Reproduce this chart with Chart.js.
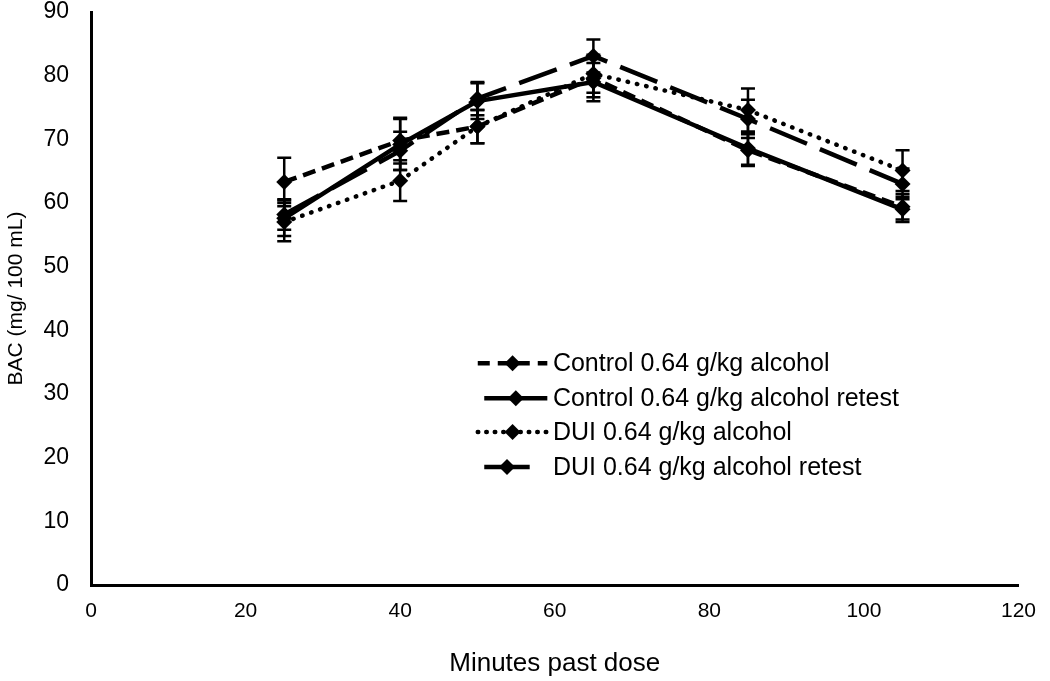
<!DOCTYPE html>
<html>
<head>
<meta charset="utf-8">
<script src="https://cdn.jsdelivr.net/npm/chart.js@4/dist/chart.umd.min.js"></script>
<style>
  html, body { margin: 0; padding: 0; background: #fff; }
  #wrap { width: 1050px; height: 681px; position: relative; }
</style>
</head>
<body>
<div id="wrap"><canvas id="bac"></canvas></div>
<script>
// minutes past dose
const minutes = [25, 40, 50, 65, 85, 105];

// mean BAC (mg/100 mL) per group
const controlBac = [63.3, 69.8, 72.0, 79.6, 68.3, 59.4];
const controlRetestBac = [57.6, 69.2, 76.0, 79.0, 68.6, 59.0];
const duiBac = [57.0, 63.5, 72.0, 80.3, 74.6, 65.1];
const duiRetestBac = [58.2, 68.2, 76.4, 83.1, 73.2, 63.0];

// error bar half-lengths
const controlErr = [3.8, 3.6, 2.6, 3.0, 2.5, 2.0];
const controlRetestErr = [2.8, 4.0, 2.8, 3.0, 2.6, 2.0];
const duiErr = [3.0, 3.2, 2.6, 3.0, 3.4, 3.2];
const duiRetestErr = [2.4, 3.0, 2.6, 2.6, 3.0, 2.4];

const seriesNames = [
  "Control 0.64 g/kg alcohol",
  "Control 0.64 g/kg alcohol retest",
  "DUI 0.64 g/kg alcohol",
  "DUI 0.64 g/kg alcohol retest"
];

const xTicks = [0, 20, 40, 60, 80, 100, 120];
const yTicks = [0, 10, 20, 30, 40, 50, 60, 70, 80, 90];

const FONT = "'Liberation Sans', Arial, sans-serif";

const pts = (ys) => minutes.map((m, i) => ({ x: m, y: ys[i] }));

const styles = [
  { dash: [13, 7], cap: "butt" },
  { dash: [], cap: "butt" },
  { dash: [0.5, 9], cap: "round" },
  { dash: [40, 14], cap: "butt" }
];
const allBac = [controlBac, controlRetestBac, duiBac, duiRetestBac];
const allErr = [controlErr, controlRetestErr, duiErr, duiRetestErr];

const datasets = allBac.map((ys, i) => ({
  label: seriesNames[i],
  data: pts(ys),
  errors: allErr[i],
  borderColor: "#000",
  backgroundColor: "#000",
  borderWidth: 4.5,
  borderDash: styles[i].dash,
  borderCapStyle: styles[i].cap,
  pointStyle: "rectRot",
  pointRadius: 8,
  pointHoverRadius: 8,
  pointBorderWidth: 0,
  tension: 0
}));

// error bars drawn through the scales
const errorBars = {
  id: "errorBars",
  beforeDatasetsDraw(chart) {
    const { ctx, scales: { x, y } } = chart;
    ctx.save();
    ctx.strokeStyle = "#000";
    ctx.lineWidth = 2.5;
    ctx.setLineDash([]);
    chart.data.datasets.forEach((ds) => {
      ds.data.forEach((p, i) => {
        const e = ds.errors[i];
        const px = x.getPixelForValue(p.x);
        const top = y.getPixelForValue(p.y + e);
        const bot = y.getPixelForValue(p.y - e);
        ctx.beginPath();
        ctx.moveTo(px, top); ctx.lineTo(px, bot);
        ctx.moveTo(px - 7, top); ctx.lineTo(px + 7, top);
        ctx.moveTo(px - 7, bot); ctx.lineTo(px + 7, bot);
        ctx.stroke();
      });
    });
    ctx.restore();
  }
};

// legend inside the plot area
const innerLegend = {
  id: "innerLegend",
  afterDraw(chart) {
    const { ctx, chartArea: a } = chart;
    const w = a.right - a.left, h = a.bottom - a.top;
    const sampleL = [0.417, 0.424, 0.417, 0.424];
    const sampleR = [0.492, 0.492, 0.492, 0.473];
    const textX = a.left + 0.498 * w;
    const rowY = [0.613, 0.674, 0.733, 0.794];
    ctx.save();
    ctx.font = "25px " + FONT;
    ctx.fillStyle = "#000";
    ctx.textBaseline = "middle";
    chart.data.datasets.forEach((ds, i) => {
      const yy = a.top + rowY[i] * h;
      const x0 = a.left + sampleL[i] * w;
      const x1 = a.left + sampleR[i] * w;
      ctx.strokeStyle = "#000";
      ctx.lineWidth = 4.5;
      ctx.lineCap = styles[i].cap;
      if (i === 0) ctx.setLineDash([12, 8]);
      else if (i === 2) ctx.setLineDash([0.5, 8]);
      else ctx.setLineDash([]);
      ctx.beginPath();
      ctx.moveTo(x0, yy); ctx.lineTo(x1, yy);
      ctx.stroke();
      const cx = (x0 + x1) / 2;
      ctx.setLineDash([]);
      ctx.beginPath();
      ctx.moveTo(cx, yy - 8); ctx.lineTo(cx + 8, yy);
      ctx.lineTo(cx, yy + 8); ctx.lineTo(cx - 8, yy);
      ctx.closePath();
      ctx.fill();
      ctx.fillText(ds.label, textX, yy + 1);
    });
    ctx.restore();
  }
};

new Chart(document.getElementById("bac"), {
  type: "line",
  data: { datasets: datasets },
  options: {
    responsive: true,
    maintainAspectRatio: false,
    animation: false,
    layout: { padding: { top: 0, right: 30, left: 4, bottom: 0 } },
    plugins: {
      legend: { display: false },
      tooltip: { enabled: false }
    },
    scales: {
      x: {
        type: "linear",
        min: 0,
        max: 120,
        afterBuildTicks: (s) => { s.ticks = xTicks.map((v) => ({ value: v })); },
        afterFit: (s) => { s.height = 96; },
        grid: { display: false, drawTicks: false },
        border: { color: "#000", width: 3 },
        ticks: { color: "#000", padding: 14, font: { family: FONT, size: 21 } },
        title: {
          display: true,
          text: "Minutes past dose",
          color: "#000",
          font: { family: FONT, size: 26 },
          padding: { top: 0, bottom: 2 }
        }
      },
      y: {
        min: 0,
        max: 90,
        afterBuildTicks: (s) => { s.ticks = yTicks.map((v) => ({ value: v })); },
        afterFit: (s) => { s.width = 87; s.paddingTop = 12; },
        grid: { display: false, drawTicks: false },
        border: { color: "#000", width: 3 },
        ticks: { color: "#000", padding: 22, font: { family: FONT, size: 23, lineHeight: 1.0 } },
        title: {
          display: true,
          text: "BAC (mg/ 100 mL)",
          color: "#000",
          font: { family: FONT, size: 21 },
          padding: { top: 0, bottom: 0 }
        }
      }
    }
  },
  plugins: [errorBars, innerLegend]
});
</script>
</body>
</html>
